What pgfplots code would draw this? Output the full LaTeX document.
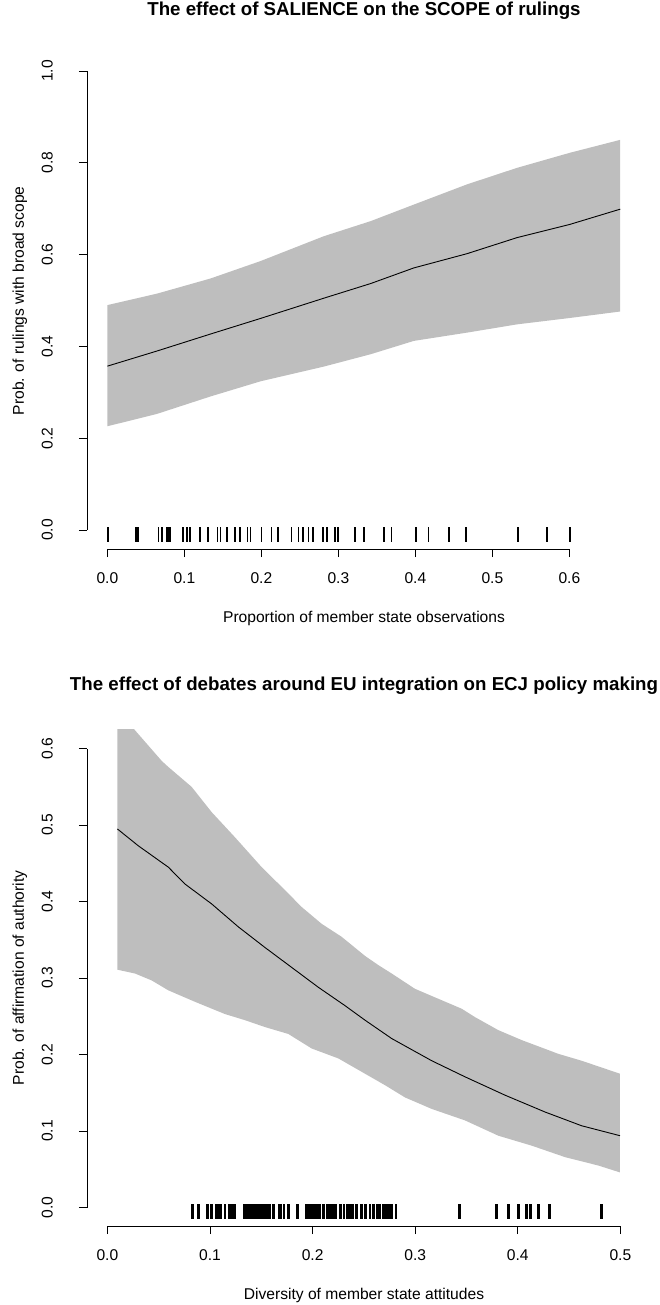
\documentclass[border=0pt]{standalone}
\usepackage{fontspec}
\setmainfont{Liberation Sans}
\usepackage{pgfplots}
\pgfplotsset{compat=1.18}
\usepackage{pgfplotstable}
\definecolor{bandgray}{HTML}{BEBEBE}

% ---- Panel 1: salience / scope ----
% confidence band: upper bound left to right, then lower bound right to left
\pgfplotstableread{
x y
0.000 0.490
0.0645 0.515
0.134 0.548
0.199 0.586
0.281 0.640
0.342 0.673
0.398 0.709
0.467 0.753
0.532 0.789
0.601 0.822
0.666 0.850
0.666 0.476
0.601 0.462
0.532 0.448
0.467 0.430
0.398 0.412
0.342 0.383
0.281 0.356
0.199 0.324
0.134 0.291
0.0645 0.253
0.000 0.226
}\topband
\pgfplotstableread{
x y
0.000 0.357
0.0645 0.390
0.134 0.427
0.199 0.461
0.281 0.505
0.342 0.537
0.398 0.571
0.467 0.602
0.532 0.637
0.601 0.666
0.666 0.699
}\topmid
\pgfplotstableread{
x y
0.000 0
0.0015 0
0.0365 0
0.038 0
0.0395 0
0.0665 0
0.0705 0
0.0775 0
0.0795 0
0.0815 0
0.0985 0
0.103 0
0.107 0
0.120 0
0.131 0
0.143 0
0.147 0
0.155 0
0.166 0
0.172 0
0.182 0
0.186 0
0.200 0
0.213 0
0.222 0
0.239 0
0.248 0
0.254 0
0.261 0
0.267 0
0.280 0
0.285 0
0.296 0
0.2995 0
0.322 0
0.3325 0
0.3335 0
0.359 0
0.369 0
0.400 0
0.4005 0
0.417 0
0.444 0
0.466 0
0.533 0
0.571 0
0.600 0
0.6005 0
}\toprug

% ---- Panel 2: diversity / affirmation ----
\pgfplotstableread{
x y
0.0097 0.651
0.0269 0.624
0.0529 0.584
0.0594 0.576
0.0821 0.550
0.1016 0.517
0.1244 0.484
0.1504 0.445
0.1731 0.415
0.1893 0.393
0.2088 0.371
0.2283 0.354
0.2511 0.329
0.2641 0.317
0.2771 0.306
0.2998 0.286
0.3225 0.273
0.3453 0.260
0.3583 0.249
0.3810 0.232
0.4038 0.219
0.4395 0.201
0.4622 0.192
0.4996 0.175
0.4996 0.046
0.4785 0.055
0.4460 0.066
0.4135 0.081
0.3810 0.094
0.3485 0.114
0.3161 0.129
0.2901 0.144
0.2706 0.160
0.2511 0.175
0.2251 0.195
0.1991 0.208
0.1763 0.227
0.1536 0.236
0.1341 0.245
0.1146 0.253
0.0854 0.269
0.0594 0.284
0.0431 0.297
0.0269 0.306
0.0097 0.311
}\botband
\pgfplotstableread{
x y
0.0097 0.495
0.0301 0.473
0.0594 0.445
0.0756 0.423
0.1016 0.397
0.1276 0.367
0.1536 0.340
0.1796 0.314
0.2056 0.288
0.2316 0.264
0.2511 0.245
0.2771 0.221
0.3161 0.192
0.3485 0.171
0.3875 0.147
0.4265 0.125
0.4622 0.107
0.4996 0.094
}\botmid
\pgfplotstableread{
x y
0.0831 0
0.0886 0
0.0974 0
0.1016 0
0.1058 0
0.1075 0
0.1091 0
0.1107 0
0.1146 0
0.1185 0
0.1201 0
0.1221 0
0.1244 0
0.1331 0
0.1348 0
0.1364 0
0.1380 0
0.1396 0
0.1413 0
0.1429 0
0.1445 0
0.1461 0
0.1478 0
0.1494 0
0.1510 0
0.1526 0
0.1543 0
0.1559 0
0.1578 0
0.1617 0
0.1673 0
0.1692 0
0.1721 0
0.1763 0
0.1851 0
0.1936 0
0.1952 0
0.1975 0
0.1991 0
0.2017 0
0.2033 0
0.2049 0
0.2066 0
0.2105 0
0.2147 0
0.2163 0
0.2186 0
0.2209 0
0.2228 0
0.2274 0
0.2306 0
0.2342 0
0.2358 0
0.2374 0
0.2394 0
0.2430 0
0.2478 0
0.2514 0
0.2559 0
0.2592 0
0.2631 0
0.2657 0
0.2689 0
0.2715 0
0.2741 0
0.2771 0
0.2813 0
0.343 0
0.3794 0
0.3908 0
0.4005 0
0.4086 0
0.412 0
0.420 0
0.4307 0
0.4817 0
}\botrug

\pgfplotsset{
  rstyle/.style={
    scale only axis, width=554pt, height=496.4pt,
    axis x line*=bottom, axis y line*=left,
    axis line style={draw=none},
    tick align=outside,
    major tick length=8pt,
    tick style={black, line width=0.8pt},
    font=\fontsize{15.6}{18.7}\selectfont,
    xticklabel style={anchor=north, inner sep=0pt},
    xticklabel shift=15.4pt,
    yticklabel style={rotate=90, anchor=south, inner sep=0pt},
    yticklabel shift=26pt,
    xlabel style={at={(axis description cs:0.5,-0.147059)}, anchor=base, inner sep=0pt},
    ylabel style={at={(axis description cs:-0.113718,0.5)}, anchor=base, inner sep=0pt},
    title style={anchor=base, inner sep=0pt,
      font=\fontsize{18.7}{22}\selectfont\bfseries},
  }
}

\begin{document}
\begin{tikzpicture}
\path (0pt,0pt) rectangle (660pt,-1305pt);
\clip (0pt,0pt) rectangle (660pt,-1305pt);

% ---------------- top panel ----------------
\begin{axis}[rstyle, at={(87pt,-549pt)}, anchor=south west,
  xmin=-0.026494, xmax=0.692987, ymin=-0.041394, ymax=1.040087,
  xtick={0,0.1,0.2,0.3,0.4,0.5,0.6},
  xticklabels={0.0,0.1,0.2,0.3,0.4,0.5,0.6},
  ytick={0,0.2,0.4,0.6,0.8,1.0},
  yticklabels={0.0,0.2,0.4,0.6,0.8,1.0},
  title style={at={(axis description cs:0.5,1.062248)}},
  title={The effect of SALIENCE on the SCOPE of rulings},
  xlabel={Proportion of member state observations},
  ylabel={Prob. of rulings with broad scope}]
\addplot[fill=bandgray, draw=none] table[x=x,y=y] {\topband} -- cycle;
\addplot[black, line width=0.9pt] table[x=x,y=y] {\topmid};
\addplot[only marks, mark=|, mark size=7.5pt, mark options={line width=1.7pt, black}]
  table[x=x, y expr=-0.0098] {\toprug};
\coordinate (ax0) at (axis cs:0,-0.041394);
\coordinate (ax1) at (axis cs:0.6,-0.041394);
\coordinate (ay0) at (axis cs:-0.026494,0);
\coordinate (ay1) at (axis cs:-0.026494,1);
\end{axis}
\draw[line width=0.8pt] (ax0) -- (ax1);
\draw[line width=0.8pt] (ay0) -- (ay1);

% ---------------- bottom panel ----------------
\begin{axis}[rstyle, at={(87pt,-1226.2pt)}, anchor=south west,
  xmin=-0.019883, xmax=0.520078, ymin=-0.024314, ymax=0.624575,
  xtick={0,0.1,0.2,0.3,0.4,0.5},
  xticklabels={0.0,0.1,0.2,0.3,0.4,0.5},
  ytick={0,0.1,0.2,0.3,0.4,0.5,0.6},
  yticklabels={0.0,0.1,0.2,0.3,0.4,0.5,0.6},
  title style={at={(axis description cs:0.5,1.066680)}},
  title={\makebox[0pt]{The effect of debates around EU integration on ECJ policy making}},
  xlabel={Diversity of member state attitudes},
  ylabel={Prob. of affirmation of authority}]
\addplot[fill=bandgray, draw=none] table[x=x,y=y] {\botband} -- cycle;
\addplot[black, line width=0.9pt] table[x=x,y=y] {\botmid};
\addplot[only marks, mark=|, mark size=7.6pt, mark options={line width=2.8pt, black}]
  table[x=x, y expr=-0.0054] {\botrug};
\coordinate (bx0) at (axis cs:0,-0.024314);
\coordinate (bx1) at (axis cs:0.5,-0.024314);
\coordinate (by0) at (axis cs:-0.019883,0);
\coordinate (by1) at (axis cs:-0.019883,0.6);
\end{axis}
\draw[line width=0.8pt] (bx0) -- (bx1);
\draw[line width=0.8pt] (by0) -- (by1);
\end{tikzpicture}
\end{document}
